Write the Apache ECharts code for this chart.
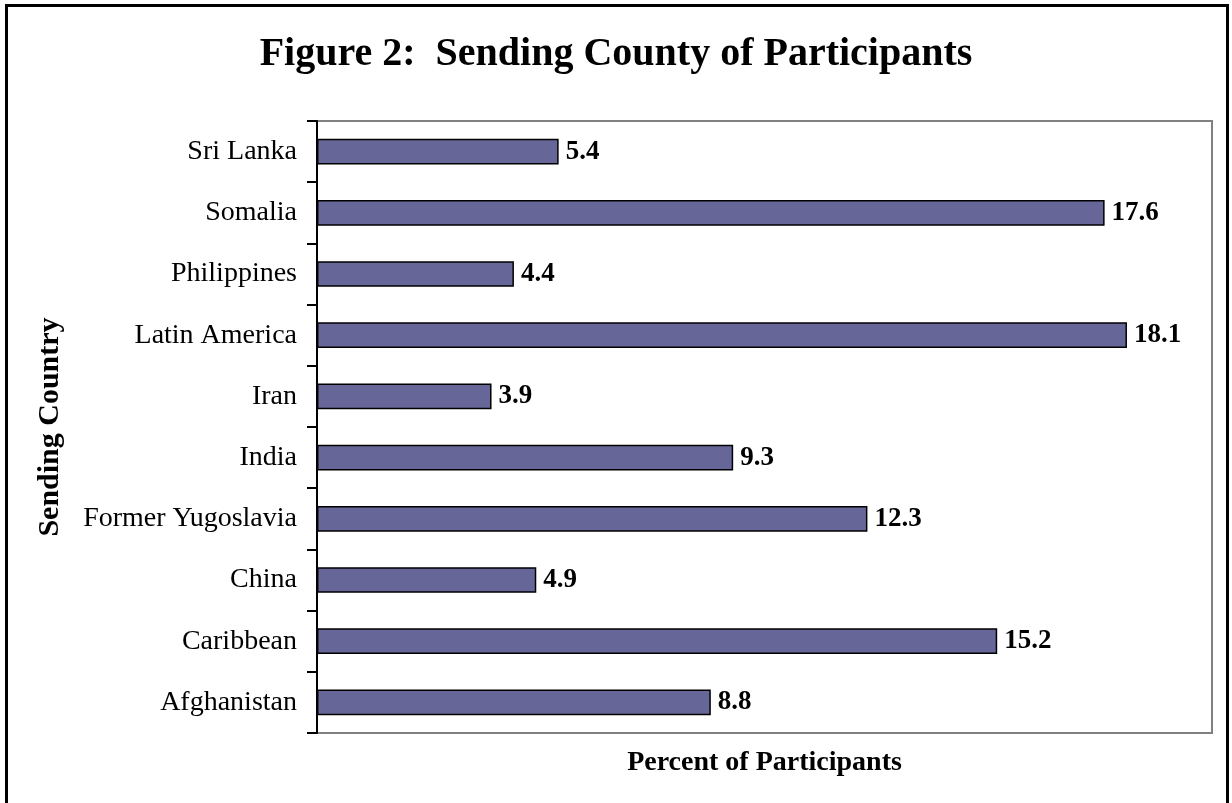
<!DOCTYPE html>
<html>
<head>
<meta charset="utf-8">
<script src="https://cdn.jsdelivr.net/npm/echarts@6/dist/echarts.min.js"></script>
<style>
html,body{margin:0;padding:0;background:#fff;}
#main{width:1232px;height:803px;}
</style>
</head>
<body>
<div id="main"></div>
<script>
const categories = ['Afghanistan','Caribbean','China','Former Yugoslavia','India','Iran','Latin America','Philippines','Somalia','Sri Lanka'];
const values = [8.8, 15.2, 4.9, 12.3, 9.3, 3.9, 18.1, 4.4, 17.6, 5.4];
const titleText = 'Figure 2:  Sending County of Participants';
const xAxisTitle = 'Percent of Participants';
const yAxisTitle = 'Sending Country';

const serif = '"Liberation Serif", "Times New Roman", serif';
const chart = echarts.init(document.getElementById('main'));
chart.setOption({
  backgroundColor: '#fff',
  animation: false,
  title: {
    text: titleText,
    left: 'center',
    top: 30,
    textStyle: {fontFamily: serif, fontWeight: 'bold', fontSize: 40, color: '#000'}
  },
  graphic: [{
    type: 'rect',
    shape: {x: 6.5, y: 5.5, width: 1221, height: 810},
    style: {fill: 'none', stroke: '#000', lineWidth: 3},
    silent: true
  }],
  grid: {
    left: 317, top: 121, right: 20, bottom: 70,
    show: true, borderColor: '#808080', borderWidth: 2, backgroundColor: 'transparent'
  },
  xAxis: {
    type: 'value', min: 0, max: 20,
    axisLine: {show: false}, axisTick: {show: false}, axisLabel: {show: false},
    splitLine: {show: false},
    name: xAxisTitle, nameLocation: 'middle', nameGap: 16,
    nameTextStyle: {fontFamily: serif, fontWeight: 'bold', fontSize: 28, color: '#000'}
  },
  yAxis: {
    type: 'category', data: categories,
    axisLine: {show: true, lineStyle: {color: '#000', width: 2}},
    axisTick: {show: true, length: 10, lineStyle: {color: '#000', width: 2}},
    axisLabel: {fontFamily: serif, fontSize: 28, color: '#000', margin: 20},
    name: yAxisTitle, nameLocation: 'middle', nameGap: 252, nameRotate: 90,
    nameTextStyle: {fontFamily: serif, fontWeight: 'bold', fontSize: 30, color: '#000'}
  },
  series: [{
    type: 'bar',
    data: values,
    barCategoryGap: '58%',
    itemStyle: {color: '#666699', borderColor: '#000', borderWidth: 1.5},
    label: {
      show: true, position: 'right', distance: 7,
      fontFamily: serif, fontWeight: 'bold', fontSize: 27, color: '#000',
      formatter: p => p.value.toFixed(1)
    }
  }]
});
</script>
</body>
</html>
